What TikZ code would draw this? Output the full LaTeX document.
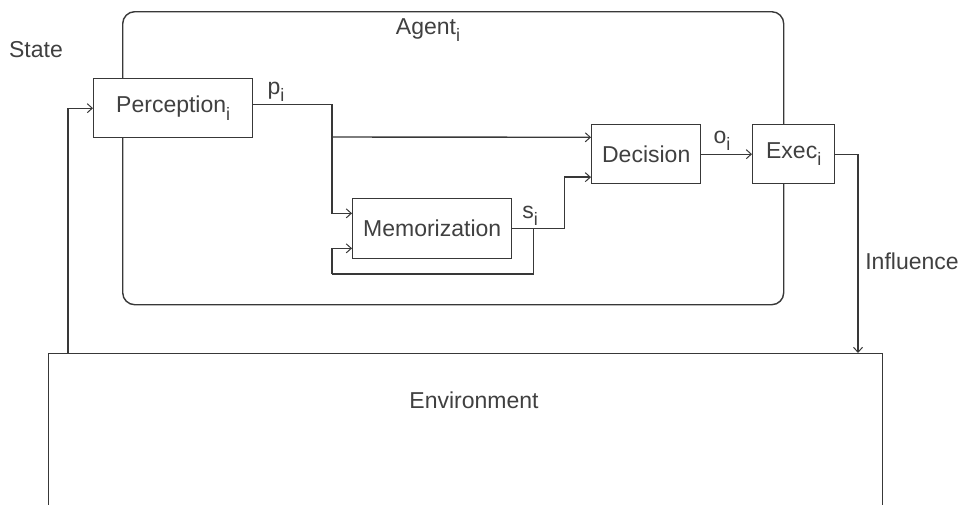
\documentclass[tikz,border=0pt]{standalone}
\usepackage{fontspec}
\setmainfont{Liberation Sans}
\usetikzlibrary{arrows.meta,calc}
\definecolor{ink}{HTML}{383838}
\definecolor{txt}{HTML}{404040}
% lowered subscript in text font
\newcommand\lowsub[1]{\raisebox{-0.6ex}{\fontsize{18}{18}\selectfont #1}}
\tikzset{
  box/.style={draw=ink, fill=white, line width=1.4pt, inner sep=0pt, anchor=north west,
              font=\fontsize{23}{23}\selectfont, text=txt},
  wire/.style={draw=ink, line width=1.4pt},
  arr/.style={-{Straight Barb[length=5pt,width=9pt,line width=1pt]}},
  lbl/.style={font=\fontsize{23}{23}\selectfont, text=txt, inner sep=0pt}
}
\begin{document}
\begin{tikzpicture}[x=1pt,y=-1pt]
\useasboundingbox (0,0) rectangle (960,504);
\clip (0,0) rectangle (960,504);

% agent frame
\node[box, rounded corners=12pt, minimum width=661pt, minimum height=293pt] (agent) at (122,11) {};
\node[lbl] (agentlbl) at (428,30) {Agent\lowsub{i}};

% environment
\node[box, minimum width=834pt, minimum height=200pt] (env) at (48,353) {};
\node[lbl] (envlbl) at (474,400) {Environment};

% processing blocks
\node[box, minimum width=159pt, minimum height=59pt] (perc) at (93,78) {Perception\lowsub{i}};
\node[box, minimum width=159pt, minimum height=60pt] (mem) at (352,198) {Memorization};
\node[box, minimum width=109pt, minimum height=59pt] (dec) at (591,124) {Decision};
\node[box, minimum width=82pt, minimum height=59pt] (exec) at (752,124) {Exec\lowsub{i}};

% connection points
\coordinate (pout) at ($(perc.north east)!0.44!(perc.south east)$);
\coordinate (m1) at ($(mem.north west)!0.25!(mem.south west)$);
\coordinate (m2) at ($(mem.north west)!0.82!(mem.south west)$);
\coordinate (d1) at ($(dec.north west)!0.22!(dec.south west)$);
\coordinate (d2) at ($(dec.north west)!0.88!(dec.south west)$);
\coordinate (split) at (332,137);
\coordinate (sj) at ($(mem.east)+(21,0)$);
\coordinate (turn) at ($(mem.east)+(52,0)$);
\coordinate (fb) at (332,274);
\coordinate (st) at ($(env.north west)+(20,0)$);
\coordinate (infl) at ($(env.north west)+(810,0)$);

% connectors
\draw[wire] (pout) -| (split);
\draw[wire,arr] (split) |- (m1);
\draw[wire,arr] (split) -- (d1);
\draw[wire] (mem.east) -- (sj);
\draw[wire,arr] (sj) -- (turn) |- (d2);
\draw[wire] (sj) |- (fb);
\draw[wire,arr] (fb) |- (m2);
\draw[wire,arr] (dec.east) -- (exec.west);
\draw[wire,arr] (exec.east) -| (infl);
\draw[wire,arr] (st) |- (perc.west);

% labels
\node[lbl] (statelbl) at (36,50) {State};
\node[lbl] (plbl) at (276,92) {p\lowsub{i}};
\node[lbl] (slbl) at (530,216) {s\lowsub{i}};
\node[lbl] (olbl) at (722,141) {o\lowsub{i}};
\node[lbl] (infllbl) at (912,261) {Influence};
\end{tikzpicture}
\end{document}
